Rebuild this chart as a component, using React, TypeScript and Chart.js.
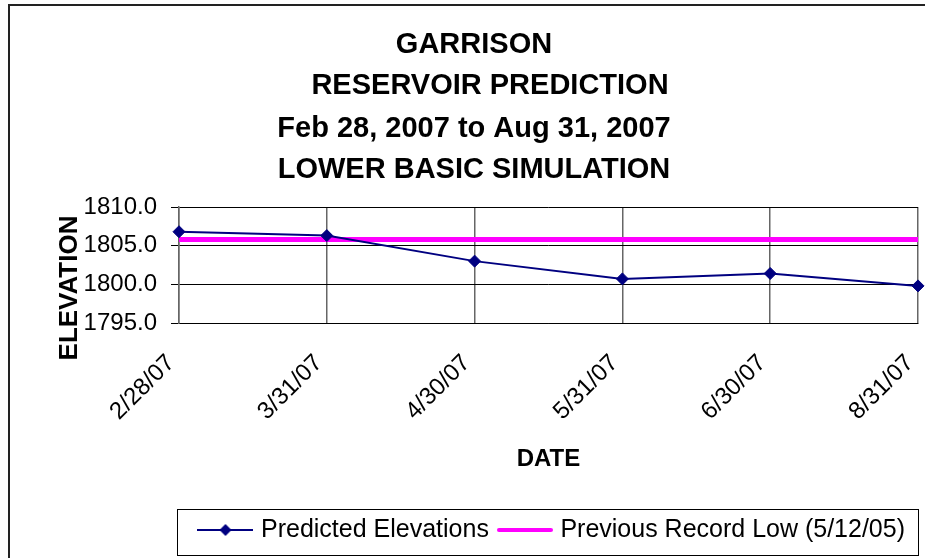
import React, { useEffect, useRef } from 'react';
import { Chart, registerables } from 'chart.js';

Chart.register(...registerables);

const dates = ['2/28/07', '3/31/07', '4/30/07', '5/31/07', '6/30/07', '8/31/07'];
const predictedElevations = [1806.8, 1806.3, 1803.0, 1800.7, 1801.4, 1799.8];
const previousRecordLow = [1805.8, 1805.8, 1805.8, 1805.8, 1805.8, 1805.8];
const yTickValues = [1795, 1800, 1805, 1810];
const titleLines = ['GARRISON', 'RESERVOIR PREDICTION', 'Feb 28, 2007 to Aug 31, 2007', 'LOWER BASIC SIMULATION'];
const seriesNames = ['Predicted Elevations', 'Previous Record Low (5/12/05)'];
const yAxisTitle = 'ELEVATION';
const xAxisTitle = 'DATE';

const FONT = '"Liberation Sans", Arial, Helvetica, sans-serif';
const NAVY = '#000080';
const MAGENTA = '#FF00FF';

function makeLegendIcon(kind: 'marker' | 'line'): HTMLCanvasElement {
  const c = document.createElement('canvas');
  c.width = 56;
  c.height = 16;
  const g = c.getContext('2d')!;
  if (kind === 'marker') {
    g.strokeStyle = NAVY;
    g.lineWidth = 2;
    g.beginPath();
    g.moveTo(0, 8);
    g.lineTo(56, 8);
    g.stroke();
    g.fillStyle = NAVY;
    g.beginPath();
    g.moveTo(28 - 6, 8);
    g.lineTo(28, 2);
    g.lineTo(28 + 6, 8);
    g.lineTo(28, 14);
    g.closePath();
    g.fill();
  } else {
    g.strokeStyle = MAGENTA;
    g.lineWidth = 4;
    g.lineCap = 'round';
    g.beginPath();
    g.moveTo(2, 8);
    g.lineTo(54, 8);
    g.stroke();
  }
  return c;
}

const decorPlugin = {
  id: 'decor',
  beforeDraw(chart: any) {
    const ctx = chart.ctx as CanvasRenderingContext2D;
    ctx.save();
    ctx.fillStyle = '#ffffff';
    ctx.fillRect(0, 0, chart.width, chart.height);
    // outer frame
    ctx.strokeStyle = '#222222';
    ctx.lineWidth = 2;
    ctx.beginPath();
    ctx.moveTo(9, chart.height + 4);
    ctx.lineTo(9, 5);
    ctx.lineTo(chart.width + 4, 5);
    ctx.stroke();
    // title
    ctx.fillStyle = '#000000';
    ctx.font = `bold 29px ${FONT}`;
    ctx.textAlign = 'center';
    ctx.textBaseline = 'alphabetic';
    const baselines = [53, 94, 137, 178];
    const centers = [474, 490, 474, 474];
    titleLines.forEach((t, i) => ctx.fillText(t, centers[i], baselines[i]));
    // y axis title
    ctx.translate(70, 288);
    ctx.rotate(-Math.PI / 2);
    ctx.font = `bold 26px ${FONT}`;
    ctx.textBaseline = 'middle';
    ctx.fillText(yAxisTitle, 0, 0);
    ctx.restore();
  },
  afterDraw(chart: any) {
    const ctx = chart.ctx as CanvasRenderingContext2D;
    const legend = chart.legend;
    const area = chart.chartArea;
    if (!legend) return;
    ctx.save();
    ctx.strokeStyle = '#000000';
    ctx.lineWidth = 1;
    const left = Math.round(area.left) - 1.5;
    const right = Math.round(area.right) + 0.5;
    const top = Math.round(legend.top + 4.5) + 0.5;
    const bottom = Math.round(legend.top + 50.5) + 0.5;
    ctx.strokeRect(left, top, right - left, bottom - top);
    ctx.restore();
  },
};

export default function App() {
  const ref = useRef<HTMLCanvasElement | null>(null);

  useEffect(() => {
    if (!ref.current) return;
    const icons = [makeLegendIcon('marker'), makeLegendIcon('line')];
    const chart = new Chart(ref.current, {
      type: 'line',
      data: {
        labels: dates,
        datasets: [
          {
            label: seriesNames[0],
            data: predictedElevations,
            borderColor: NAVY,
            backgroundColor: NAVY,
            borderWidth: 2,
            pointStyle: 'rectRot',
            pointRadius: 6,
            pointBorderWidth: 1,
            pointBackgroundColor: NAVY,
            pointBorderColor: NAVY,
            tension: 0,
            fill: false,
          },
          {
            label: seriesNames[1],
            data: previousRecordLow,
            borderColor: MAGENTA,
            backgroundColor: MAGENTA,
            borderWidth: 5,
            pointRadius: 0,
            tension: 0,
            fill: false,
          },
        ],
      },
      options: {
        animation: false,
        responsive: false,
        devicePixelRatio: 1,
        events: [],
        layout: { padding: { top: 207, right: 7, bottom: 5.5, left: 0 } },
        plugins: {
          title: { display: false },
          tooltip: { enabled: false },
          legend: {
            display: true,
            position: 'bottom',
            align: 'end',
            labels: {
              usePointStyle: true,
              pointStyleWidth: 46,
              padding: 13,
              color: '#000000',
              font: { family: FONT, size: 25 },
              generateLabels: (ch: any) => {
                const base = Chart.defaults.plugins.legend.labels.generateLabels(ch);
                return base.map((item: any, i: number) => ({ ...item, pointStyle: icons[i], lineWidth: 0 }));
              },
            },
          },
        },
        scales: {
          x: {
            type: 'category',
            offset: false,
            afterFit: (s: any) => {
              s.height = 181.5;
              s.paddingLeft = 0;
              s.paddingRight = 0;
            },
            grid: {
              display: true,
              color: '#666666',
              lineWidth: 1.5,
              drawTicks: false,
            },
            border: { display: true, color: '#000000', width: 1 },
            ticks: {
              autoSkip: false,
              minRotation: 45,
              maxRotation: 45,
              padding: 26,
              labelOffset: -8,
              color: '#000000',
              font: { family: FONT, size: 24 },
            },
            title: {
              display: true,
              text: xAxisTitle,
              color: '#000000',
              font: { family: FONT, size: 24, weight: 'bold' },
              padding: { top: 0, bottom: 31 },
            },
          },
          y: {
            type: 'linear',
            min: 1795,
            max: 1810,
            afterBuildTicks: (s: any) => {
              s.ticks = yTickValues.map((v) => ({ value: v }));
            },
            afterFit: (s: any) => {
              s.width = 179;
              s.paddingTop = 0;
              s.paddingBottom = 0;
            },
            grid: {
              display: true,
              color: '#000000',
              lineWidth: 1,
              drawTicks: true,
              tickLength: 8,
              tickColor: '#000000',
            },
            border: { display: true, color: '#666666', width: 1.5 },
            ticks: {
              padding: 14,
              color: '#000000',
              font: { family: FONT, size: 24 },
              callback: (v: any) => Number(v).toFixed(1),
            },
          },
        },
      },
      plugins: [decorPlugin],
    });
    return () => chart.destroy();
  }, []);

  return (
    <div style={{ position: 'absolute', left: 0, top: 0, width: 925, height: 558, background: '#fff' }}>
      <canvas ref={ref} width={925} height={558} style={{ display: 'block' }} />
    </div>
  );
}
